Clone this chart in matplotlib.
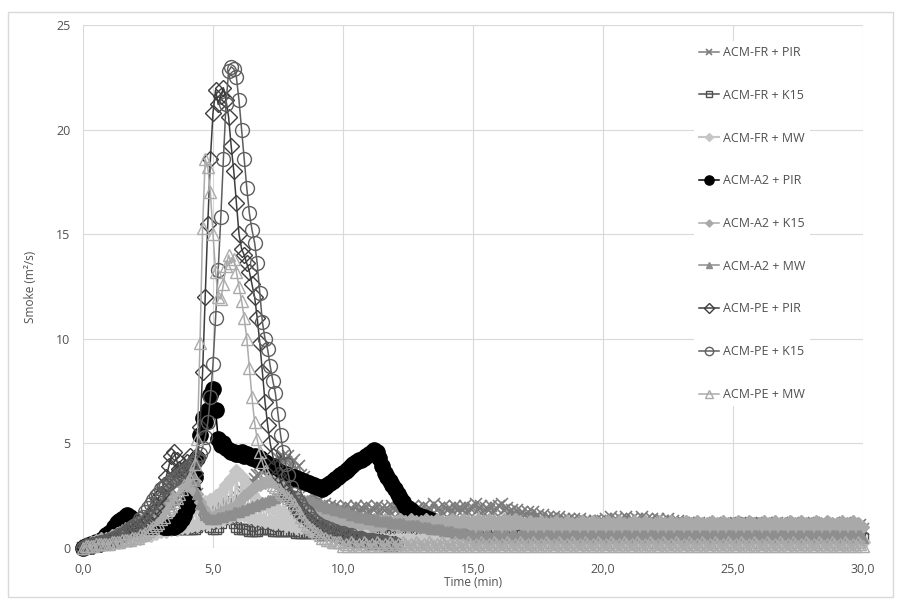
import numpy as np
import matplotlib
matplotlib.use("Agg")
import matplotlib.pyplot as plt
from matplotlib.ticker import FuncFormatter
from matplotlib.patches import Rectangle

# Sample times (min), one reading every 6 s
TIME_MIN = np.linspace(0.0, 30.0, 301)

FR_PIR = [
    0.0, 0.1, 0.1, 0.2, 0.1, 0.2, 0.3, 0.2, 0.3, 0.4,
    0.3, 0.5, 0.4, 0.6, 0.5, 0.7, 0.6, 0.8, 0.7, 0.9,
    0.8, 1.1, 0.9, 1.2, 1.1, 1.4, 1.2, 1.5, 1.4, 1.7,
    1.5, 1.9, 1.7, 2.1, 1.9, 2.3, 2.1, 2.5, 2.3, 2.7,
    2.5, 2.9, 2.7, 3.0, 2.6, 2.2, 1.9, 1.8, 1.7, 1.8,
    1.8, 1.9, 1.9, 2.0, 2.0, 2.1, 2.1, 2.2, 2.2, 2.3,
    2.4, 2.6, 2.7, 2.9, 3.0, 3.2, 3.3, 3.5, 3.5, 3.7,
    3.7, 3.9, 3.8, 4.1, 3.9, 4.3, 4.0, 4.4, 4.1, 4.4,
    4.0, 4.2, 3.8, 3.9, 3.5, 3.4, 3.0, 2.9, 2.6, 2.5,
    2.2, 2.3, 2.0, 2.1, 1.9, 2.0, 1.8, 2.0, 1.7, 1.9,
    1.8, 2.0, 1.7, 1.9, 1.8, 2.0, 1.7, 1.9, 1.8, 2.0,
    1.7, 1.9, 1.8, 2.0, 1.7, 1.9, 1.8, 1.9, 1.7, 2.0,
    1.8, 1.9, 1.7, 2.0, 1.8, 1.9, 1.7, 2.0, 1.8, 1.9,
    1.8, 2.0, 1.7, 1.9, 1.8, 2.1, 1.8, 1.9, 1.7, 2.0,
    1.8, 1.9, 1.7, 2.0, 1.8, 1.9, 1.8, 2.0, 1.7, 1.9,
    1.9, 2.1, 1.8, 2.0, 1.7, 1.9, 1.8, 2.0, 1.7, 1.9,
    2.0, 2.1, 1.8, 1.9, 1.7, 1.8, 1.6, 1.8, 1.6, 1.7,
    1.6, 1.7, 1.5, 1.7, 1.5, 1.6, 1.4, 1.6, 1.4, 1.5,
    1.4, 1.5, 1.3, 1.5, 1.3, 1.4, 1.3, 1.4, 1.2, 1.4,
    1.3, 1.4, 1.2, 1.3, 1.2, 1.3, 1.1, 1.3, 1.2, 1.3,
    1.3, 1.4, 1.2, 1.5, 1.3, 1.4, 1.2, 1.4, 1.3, 1.5,
    1.3, 1.4, 1.2, 1.4, 1.3, 1.5, 1.2, 1.4, 1.3, 1.4,
    1.2, 1.4, 1.2, 1.3, 1.2, 1.4, 1.1, 1.3, 1.2, 1.3,
    1.1, 1.2, 1.1, 1.2, 1.0, 1.2, 1.1, 1.2, 1.0, 1.1,
    1.0, 1.1, 1.0, 1.2, 1.0, 1.1, 1.0, 1.1, 1.0, 1.2,
    1.0, 1.2, 1.0, 1.1, 1.0, 1.2, 1.1, 1.2, 1.0, 1.1,
    1.0, 1.1, 1.0, 1.2, 1.0, 1.1, 1.0, 1.2, 1.1, 1.2,
    1.0, 1.1, 1.0, 1.2, 1.1, 1.2, 1.0, 1.1, 1.0, 1.2,
    1.1, 1.2, 1.0, 1.1, 1.0, 1.2, 1.0, 1.1, 1.1, 1.2,
    1.0, 1.1, 1.0, 1.2, 1.0, 1.1, 1.0, 1.1, 1.0, 1.1,
    0.9,
]

FR_K15 = [
    0.0, 0.0, 0.1, 0.1, 0.1, 0.2, 0.2, 0.2, 0.3, 0.3,
    0.3, 0.4, 0.4, 0.5, 0.5, 0.6, 0.6, 0.7, 0.7, 0.8,
    0.8, 0.8, 0.8, 0.9, 0.9, 0.9, 0.9, 0.9, 1.0, 1.0,
    1.0, 1.0, 1.0, 0.9, 0.9, 0.9, 0.9, 0.9, 0.9, 0.9,
    0.9, 0.9, 0.9, 0.9, 1.0, 1.1, 1.3, 1.3, 1.2, 1.0,
    0.9, 0.9, 1.0, 1.2, 1.4, 1.5, 1.5, 1.4, 1.2, 1.0,
    0.9, 0.9, 0.9, 0.9, 0.8, 0.8, 0.8, 0.8, 0.9, 0.9,
    0.9, 0.9, 0.9, 0.8, 0.8, 0.8, 0.8, 0.8, 0.8, 0.8,
    0.8, 0.8, 0.7, 0.7, 0.7, 0.7, 0.7, 0.7, 0.7, 0.7,
    0.7, 0.7, 0.6, 0.7, 0.6, 0.7, 0.6, 0.7, 0.6, 0.7,
    0.6, 0.7, 0.6, 0.7, 0.6, 0.7, 0.6, 0.7, 0.6, 0.7,
    0.6, 0.7, 0.6, 0.7, 0.6, 0.7, 0.6, 0.7, 0.6, 0.7,
    0.6, 0.7, 0.6, 0.7, 0.6, 0.7, 0.6, 0.7, 0.6, 0.7,
    0.6, 0.7, 0.6, 0.7, 0.6, 0.7, 0.6, 0.7, 0.6, 0.7,
    0.6, 0.7, 0.6, 0.7, 0.6, 0.7, 0.6, 0.7, 0.6, 0.7,
    0.7, 0.7, 0.8, 0.9, 0.9, 1.0, 0.9, 0.9, 1.0, 0.9,
    0.9, 0.8, 0.7, 0.6, 0.7, 0.6, 0.7, 0.6, 0.7, 0.6,
    0.6, 0.7, 0.6, 0.7, 0.6, 0.7, 0.6, 0.7, 0.6, 0.7,
    0.6, 0.7, 0.6, 0.7, 0.6, 0.7, 0.6, 0.7, 0.6, 0.7,
    0.6, 0.7, 0.6, 0.7, 0.6, 0.7, 0.6, 0.7, 0.6, 0.7,
    0.6, 0.7, 0.6, 0.7, 0.6, 0.7, 0.6, 0.7, 0.6, 0.7,
    0.6, 0.7, 0.6, 0.7, 0.6, 0.7, 0.6, 0.7, 0.6, 0.7,
    0.6, 0.7, 0.6, 0.7, 0.6, 0.7, 0.6, 0.7, 0.6, 0.7,
    0.6, 0.7, 0.6, 0.7, 0.6, 0.7, 0.6, 0.7, 0.6, 0.7,
    0.6, 0.7, 0.6, 0.7, 0.6, 0.7, 0.6, 0.7, 0.8, 1.0,
    1.1, 1.2, 1.2, 1.1, 1.2, 1.2, 1.1, 1.2, 1.2, 1.1,
    1.2, 1.1, 0.8, 0.7, 0.6, 0.7, 0.6, 0.7, 0.6, 0.7,
    0.6, 0.7, 0.6, 0.7, 0.6, 0.7, 0.6, 0.7, 0.6, 0.7,
    0.6, 0.7, 0.6, 0.7, 0.6, 0.7, 0.6, 0.7, 0.6, 0.7,
    0.6, 0.7, 0.6, 0.7, 0.6, 0.7, 0.6, 0.7, 0.6, 0.7,
    0.5,
]

FR_MW = [
    0.1, 0.2, 0.1, 0.2, 0.2, 0.3, 0.2, 0.3, 0.2, 0.3,
    0.3, 0.4, 0.3, 0.4, 0.3, 0.5, 0.4, 0.5, 0.4, 0.6,
    0.5, 0.6, 0.5, 0.7, 0.6, 0.8, 0.6, 0.9, 0.7, 1.0,
    0.8, 1.1, 0.8, 1.2, 0.9, 1.4, 0.9, 1.5, 1.0, 1.6,
    1.0, 1.8, 1.1, 1.9, 1.1, 2.0, 1.2, 2.2, 1.2, 2.3,
    1.3, 2.5, 1.3, 2.7, 1.4, 3.0, 1.5, 3.3, 1.6, 3.7,
    1.6, 3.4, 1.6, 3.0, 1.5, 2.6, 1.4, 2.3, 1.4, 2.1,
    1.3, 2.0, 1.3, 1.9, 1.2, 1.8, 1.2, 1.7, 1.1, 1.6,
    1.1, 1.6, 1.0, 1.5, 1.0, 1.5, 1.0, 1.4, 0.9, 1.4,
    0.9, 1.3, 0.9, 1.3, 0.8, 1.2, 0.8, 1.2, 0.8, 1.1,
    0.7, 1.0, 0.7, 0.9, 0.6, 0.8, 0.6, 0.8, 0.5, 0.7,
    0.3, 0.5, 0.2, 0.4, 0.3, 0.5, 0.2, 0.4, 0.3, 0.4,
    0.3, 0.5, 0.2, 0.4, 0.3, 0.5, 0.2, 0.4, 0.3, 0.4,
    0.3, 0.5, 0.2, 0.4, 0.3, 0.5, 0.2, 0.4, 0.3, 0.4,
    0.3, 0.5, 0.2, 0.4, 0.3, 0.5, 0.2, 0.4, 0.3, 0.4,
    0.3, 0.5, 0.2, 0.4, 0.3, 0.5, 0.2, 0.4, 0.3, 0.4,
    0.3, 0.5, 0.2, 0.4, 0.3, 0.5, 0.2, 0.4, 0.3, 0.4,
    0.3, 0.5, 0.2, 0.4, 0.3, 0.5, 0.2, 0.4, 0.3, 0.4,
    0.3, 0.5, 0.2, 0.4, 0.3, 0.5, 0.2, 0.4, 0.3, 0.4,
    0.3, 0.5, 0.2, 0.4, 0.3, 0.5, 0.2, 0.4, 0.3, 0.4,
    0.3, 0.5, 0.2, 0.4, 0.3, 0.5, 0.2, 0.4, 0.3, 0.4,
    0.3, 0.5, 0.2, 0.4, 0.3, 0.5, 0.2, 0.4, 0.3, 0.4,
    0.3, 0.5, 0.2, 0.4, 0.3, 0.5, 0.2, 0.4, 0.3, 0.4,
    0.3, 0.5, 0.2, 0.4, 0.3, 0.5, 0.2, 0.4, 0.3, 0.4,
    0.3, 0.5, 0.2, 0.4, 0.3, 0.5, 0.2, 0.4, 0.3, 0.4,
    0.3, 0.5, 0.2, 0.4, 0.3, 0.5, 0.2, 0.4, 0.3, 0.4,
    0.3, 0.5, 0.2, 0.4, 0.3, 0.5, 0.2, 0.4, 0.3, 0.4,
    0.3, 0.5, 0.2, 0.4, 0.3, 0.5, 0.2, 0.4, 0.3, 0.4,
    0.3, 0.5, 0.2, 0.4, 0.3, 0.5, 0.2, 0.4, 0.3, 0.4,
    0.3, 0.5, 0.2, 0.4, 0.3, 0.5, 0.2, 0.4, 0.3, 0.4,
    0.3,
]

# This run stops at 13.6 min
A2_PIR = [
    0.0, 0.1, 0.1, 0.2, 0.2, 0.3, 0.3, 0.4, 0.5, 0.6,
    0.7, 0.8, 1.0, 1.2, 1.3, 1.4, 1.5, 1.6, 1.5, 1.4,
    1.3, 1.2, 1.2, 1.1, 1.1, 1.0, 1.0, 1.0, 1.1, 1.1,
    1.1, 1.0, 1.0, 1.0, 1.1, 1.0, 1.1, 1.2, 1.4, 1.6,
    1.9, 2.3, 2.8, 3.4, 4.3, 5.4, 6.2, 6.0, 6.6, 7.3,
    7.6, 6.6, 5.2, 4.9, 5.0, 4.8, 4.7, 4.6, 4.6, 4.5,
    4.5, 4.6, 4.4, 4.5, 4.4, 4.3, 4.4, 4.2, 4.3, 4.1,
    4.1, 4.0, 3.9, 3.9, 3.8, 3.7, 3.6, 3.6, 3.5, 3.5,
    3.4, 3.4, 3.3, 3.3, 3.2, 3.2, 3.1, 3.1, 3.0, 3.0,
    2.9, 2.9, 2.8, 2.9, 3.0, 3.1, 3.2, 3.3, 3.4, 3.5,
    3.6, 3.7, 3.8, 3.9, 4.0, 4.1, 4.2, 4.2, 4.3, 4.4,
    4.5, 4.6, 4.7, 4.6, 4.3, 3.9, 3.6, 3.4, 3.2, 3.0,
    2.8, 2.6, 2.4, 2.2, 2.0, 1.9, 1.8, 1.7, 1.6, 1.6,
    1.5, 1.5, 1.4, 1.4, 1.3, 1.3, 1.2,
]

A2_K15 = [
    0.1, 0.2, 0.2, 0.3, 0.3, 0.4, 0.4, 0.5, 0.4, 0.5,
    0.5, 0.6, 0.6, 0.7, 0.7, 0.8, 0.8, 0.9, 0.9, 1.0,
    1.0, 1.1, 1.1, 1.2, 1.2, 1.3, 1.3, 1.4, 1.4, 1.5,
    1.5, 1.8, 2.2, 2.6, 3.0, 3.4, 3.2, 3.6, 3.0, 3.4,
    3.0, 3.5, 2.8, 3.2, 2.6, 2.2, 1.9, 1.7, 1.6, 1.5,
    1.5, 1.6, 1.6, 1.7, 1.7, 1.8, 1.8, 1.9, 1.9, 2.0,
    2.2, 2.4, 2.5, 2.6, 2.7, 2.8, 2.9, 3.0, 3.0, 3.1,
    3.1, 3.2, 3.2, 3.2, 3.1, 3.1, 3.0, 2.9, 2.8, 2.7,
    2.6, 2.5, 2.4, 2.3, 2.2, 2.1, 2.0, 1.9, 1.8, 1.8,
    1.8, 1.7, 1.7, 1.6, 1.6, 1.5, 1.5, 1.4, 1.4, 1.4,
    1.3, 1.2, 1.4, 1.1, 1.3, 1.2, 1.4, 1.1, 1.3, 1.2,
    1.3, 1.0, 1.4, 1.1, 1.3, 1.0, 1.4, 1.2, 1.3, 1.1,
    1.3, 1.0, 1.4, 1.1, 1.3, 1.0, 1.4, 1.2, 1.3, 1.1,
    1.3, 1.0, 1.4, 1.1, 1.3, 1.0, 1.4, 1.2, 1.3, 1.1,
    1.3, 1.0, 1.4, 1.1, 1.3, 1.0, 1.4, 1.2, 1.3, 1.1,
    1.3, 1.0, 1.4, 1.1, 1.3, 1.0, 1.4, 1.2, 1.3, 1.1,
    1.3, 1.0, 1.4, 1.1, 1.3, 1.0, 1.4, 1.2, 1.3, 1.1,
    1.2, 0.9, 1.3, 1.0, 1.2, 0.9, 1.3, 1.0, 1.2, 1.0,
    1.2, 0.9, 1.3, 1.0, 1.2, 0.9, 1.3, 1.0, 1.2, 1.0,
    1.2, 0.9, 1.3, 1.0, 1.2, 0.9, 1.3, 1.0, 1.2, 1.0,
    1.2, 0.9, 1.3, 1.0, 1.2, 0.9, 1.3, 1.0, 1.2, 1.0,
    1.2, 0.9, 1.3, 1.0, 1.2, 0.9, 1.3, 1.0, 1.2, 1.0,
    1.2, 0.9, 1.3, 1.0, 1.2, 0.9, 1.3, 1.0, 1.2, 1.0,
    1.2, 0.9, 1.3, 1.0, 1.2, 0.9, 1.3, 1.0, 1.2, 1.0,
    1.2, 0.9, 1.3, 1.0, 1.2, 0.9, 1.3, 1.0, 1.2, 1.0,
    1.2, 0.9, 1.3, 1.0, 1.2, 0.9, 1.3, 1.0, 1.2, 1.0,
    1.2, 0.9, 1.3, 1.0, 1.2, 0.9, 1.3, 1.0, 1.2, 1.0,
    1.2, 0.9, 1.3, 1.0, 1.2, 0.9, 1.3, 1.0, 1.2, 1.0,
    1.2, 0.9, 1.3, 1.0, 1.2, 0.9, 1.3, 1.0, 1.2, 1.0,
    1.2, 0.9, 1.3, 1.0, 1.2, 0.9, 1.3, 1.0, 1.2, 1.0,
    1.0,
]

A2_MW = [
    0.0, 0.1, 0.1, 0.1, 0.2, 0.2, 0.2, 0.3, 0.3, 0.3,
    0.4, 0.5, 0.6, 0.7, 0.8, 0.9, 1.0, 1.0, 1.1, 1.1,
    1.2, 1.3, 1.4, 1.5, 1.6, 1.7, 1.8, 1.9, 2.0, 2.1,
    2.2, 2.5, 2.8, 3.1, 3.4, 3.7, 3.5, 3.9, 3.6, 4.0,
    3.7, 4.1, 3.6, 3.2, 2.6, 2.1, 1.8, 1.6, 1.5, 1.4,
    1.4, 1.4, 1.5, 1.5, 1.5, 1.6, 1.6, 1.6, 1.7, 1.7,
    1.7, 1.8, 1.8, 1.9, 1.9, 2.0, 2.0, 2.1, 2.1, 2.2,
    2.2, 2.3, 2.3, 2.4, 2.4, 2.5, 2.5, 2.5, 2.5, 2.5,
    2.5, 2.5, 2.4, 2.4, 2.4, 2.3, 2.3, 2.3, 2.2, 2.2,
    2.1, 2.1, 2.0, 2.0, 1.9, 1.9, 1.9, 1.8, 1.8, 1.8,
    1.7, 1.7, 1.7, 1.6, 1.6, 1.6, 1.5, 1.5, 1.5, 1.5,
    1.4, 1.4, 1.4, 1.4, 1.3, 1.3, 1.3, 1.3, 1.3, 1.2,
    1.2, 1.2, 1.2, 1.2, 1.1, 1.1, 1.1, 1.1, 1.1, 1.1,
    1.0, 1.0, 1.0, 1.0, 0.9, 0.9, 0.9, 0.9, 0.9, 0.8,
    0.8, 0.8, 0.8, 0.7, 0.7, 0.7, 0.7, 0.7, 0.6, 0.6,
    0.6, 0.5, 0.6, 0.6, 0.5, 0.6, 0.6, 0.5, 0.6, 0.6,
    0.6, 0.5, 0.6, 0.6, 0.5, 0.6, 0.6, 0.5, 0.6, 0.6,
    0.6, 0.5, 0.6, 0.6, 0.5, 0.6, 0.6, 0.5, 0.6, 0.6,
    0.6, 0.5, 0.6, 0.6, 0.5, 0.6, 0.6, 0.5, 0.6, 0.6,
    0.6, 0.5, 0.6, 0.6, 0.5, 0.6, 0.6, 0.5, 0.6, 0.6,
    0.6, 0.5, 0.6, 0.6, 0.5, 0.6, 0.6, 0.5, 0.6, 0.6,
    0.6, 0.5, 0.6, 0.6, 0.5, 0.6, 0.6, 0.5, 0.6, 0.6,
    0.6, 0.5, 0.6, 0.6, 0.5, 0.6, 0.6, 0.5, 0.6, 0.6,
    0.6, 0.5, 0.6, 0.6, 0.5, 0.6, 0.6, 0.5, 0.6, 0.6,
    0.6, 0.5, 0.6, 0.6, 0.5, 0.6, 0.6, 0.5, 0.6, 0.6,
    0.6, 0.5, 0.6, 0.6, 0.5, 0.6, 0.6, 0.5, 0.6, 0.6,
    0.6, 0.5, 0.6, 0.6, 0.5, 0.6, 0.6, 0.5, 0.6, 0.6,
    0.6, 0.5, 0.6, 0.6, 0.5, 0.6, 0.6, 0.5, 0.6, 0.6,
    0.6, 0.5, 0.6, 0.6, 0.5, 0.6, 0.6, 0.5, 0.6, 0.6,
    0.6, 0.5, 0.6, 0.6, 0.5, 0.6, 0.6, 0.5, 0.6, 0.6,
    0.5,
]

# These two runs stop at 12.0 min
PE_PIR = [
    0.0, 0.1, 0.1, 0.1, 0.1, 0.2, 0.2, 0.2, 0.3, 0.3,
    0.3, 0.4, 0.4, 0.5, 0.5, 0.6, 0.7, 0.8, 0.9, 1.0,
    0.9, 1.0, 1.0, 1.1, 1.2, 1.3, 1.5, 1.7, 2.0, 2.4,
    2.6, 3.0, 3.4, 3.9, 4.4, 4.6, 4.2, 3.8, 3.5, 3.8,
    4.1, 4.4, 4.0, 3.6, 4.3, 5.8, 8.4, 12.0, 15.5, 18.6,
    20.8, 21.9, 21.2, 21.6, 22.0, 21.4, 20.6, 19.2, 18.0, 16.5,
    15.0, 14.3, 14.0, 13.6, 13.2, 12.6, 12.0, 11.0, 9.8, 8.4,
    7.0, 5.9, 5.0, 4.4, 3.9, 3.5, 3.2, 2.9, 2.7, 2.5,
    2.3, 2.1, 1.9, 1.7, 1.6, 1.5, 1.4, 1.3, 1.2, 1.1,
    1.0, 0.9, 0.9, 0.8, 0.8, 0.7, 0.7, 0.6, 0.6, 0.6,
    0.5, 0.5, 0.5, 0.5, 0.4, 0.4, 0.4, 0.4, 0.4, 0.3,
    0.3, 0.3, 0.3, 0.3, 0.3, 0.3, 0.2, 0.2, 0.2, 0.2,
    0.2,
]

PE_K15 = [
    0.0, 0.1, 0.1, 0.1, 0.2, 0.2, 0.2, 0.3, 0.3, 0.3,
    0.4, 0.4, 0.5, 0.5, 0.6, 0.6, 0.7, 0.8, 0.9, 1.0,
    1.1, 1.2, 1.4, 1.5, 1.7, 1.9, 2.1, 2.3, 2.5, 2.6,
    2.8, 2.9, 3.0, 3.1, 3.2, 3.3, 3.4, 3.5, 3.6, 3.7,
    3.8, 3.9, 4.0, 4.1, 4.3, 4.5, 4.8, 5.3, 6.0, 7.2,
    8.8, 11.0, 13.3, 15.8, 18.6, 21.2, 22.8, 23.0, 22.9, 22.5,
    21.4, 20.0, 18.6, 17.2, 16.0, 15.2, 14.6, 13.6, 12.2, 10.8,
    10.0, 9.5, 8.7, 8.0, 7.4, 6.4, 5.4, 4.6, 4.0, 3.5,
    2.9, 2.6, 2.4, 2.2, 2.0, 1.8, 1.7, 1.6, 1.4, 1.3,
    1.2, 1.1, 1.0, 1.0, 0.9, 0.9, 0.8, 0.8, 0.7, 0.7,
    0.7, 0.6, 0.6, 0.6, 0.5, 0.5, 0.5, 0.5, 0.4, 0.4,
    0.4, 0.4, 0.3, 0.3, 0.3, 0.3, 0.3, 0.2, 0.2, 0.2,
    0.2,
]

PE_MW = [
    0.0, 0.1, 0.1, 0.1, 0.1, 0.2, 0.2, 0.2, 0.2, 0.2,
    0.2, 0.3, 0.3, 0.3, 0.3, 0.4, 0.4, 0.4, 0.4, 0.5,
    0.5, 0.5, 0.6, 0.6, 0.7, 0.8, 0.9, 1.0, 1.1, 1.2,
    1.4, 1.5, 1.7, 1.9, 2.0, 2.2, 2.4, 2.6, 2.8, 3.0,
    3.1, 3.3, 3.6, 4.0, 5.2, 9.8, 15.3, 18.6, 18.2, 17.0,
    15.0, 13.2, 12.0, 11.9, 12.6, 13.5, 14.0, 13.6, 13.8, 13.2,
    12.5, 11.8, 11.0, 10.0, 8.6, 7.2, 6.0, 5.2, 4.6, 4.1,
    3.7, 3.4, 3.2, 3.0, 2.9, 2.8, 2.7, 2.6, 2.5, 2.4,
    2.3, 2.1, 1.9, 1.7, 1.5, 1.3, 1.1, 1.0, 0.9, 0.8,
    0.7, 0.6, 0.5, 0.5, 0.4, 0.4, 0.3, 0.3, 0.3, 0.3,
    0.1, 0.2, 0.1, 0.3, 0.2, 0.1, 0.2, 0.1, 0.3, 0.2,
    0.1, 0.2, 0.1, 0.3, 0.2, 0.1, 0.2, 0.1, 0.3, 0.2,
    0.1, 0.2, 0.1, 0.3, 0.2, 0.1, 0.2, 0.1, 0.3, 0.2,
    0.1, 0.2, 0.1, 0.3, 0.2, 0.1, 0.2, 0.1, 0.3, 0.2,
    0.1, 0.2, 0.1, 0.3, 0.2, 0.1, 0.2, 0.1, 0.3, 0.2,
    0.1, 0.2, 0.1, 0.3, 0.2, 0.1, 0.2, 0.1, 0.3, 0.2,
    0.1, 0.2, 0.1, 0.3, 0.2, 0.1, 0.2, 0.1, 0.3, 0.2,
    0.1, 0.2, 0.1, 0.3, 0.2, 0.1, 0.2, 0.1, 0.3, 0.2,
    0.1, 0.2, 0.1, 0.3, 0.2, 0.1, 0.2, 0.1, 0.3, 0.2,
    0.1, 0.2, 0.1, 0.3, 0.2, 0.1, 0.2, 0.1, 0.3, 0.2,
    0.1, 0.2, 0.1, 0.3, 0.2, 0.1, 0.2, 0.1, 0.3, 0.2,
    0.1, 0.2, 0.1, 0.3, 0.2, 0.1, 0.2, 0.1, 0.3, 0.2,
    0.1, 0.2, 0.1, 0.3, 0.2, 0.1, 0.2, 0.1, 0.3, 0.2,
    0.1, 0.2, 0.1, 0.3, 0.2, 0.1, 0.2, 0.1, 0.3, 0.2,
    0.1, 0.2, 0.1, 0.3, 0.2, 0.1, 0.2, 0.1, 0.3, 0.2,
    0.1, 0.2, 0.1, 0.3, 0.2, 0.1, 0.2, 0.1, 0.3, 0.2,
    0.1, 0.2, 0.1, 0.3, 0.2, 0.1, 0.2, 0.1, 0.3, 0.2,
    0.1, 0.2, 0.1, 0.3, 0.2, 0.1, 0.2, 0.1, 0.3, 0.2,
    0.1, 0.2, 0.1, 0.3, 0.2, 0.1, 0.2, 0.1, 0.3, 0.2,
    0.1, 0.2, 0.1, 0.3, 0.2, 0.1, 0.2, 0.1, 0.3, 0.2,
    0.1,
]

SERIES_LABELS = [
    "ACM-FR + PIR", "ACM-FR + K15", "ACM-FR + MW",
    "ACM-A2 + PIR", "ACM-A2 + K15", "ACM-A2 + MW",
    "ACM-PE + PIR", "ACM-PE + K15", "ACM-PE + MW",
]
SERIES_VALUES = [FR_PIR, FR_K15, FR_MW, A2_PIR, A2_K15, A2_MW, PE_PIR, PE_K15, PE_MW]

# colour, marker, marker size (pt), filled marker?, line width
STYLES = [
    ("#7c7c7c", "x", 8.0, True, 1.1),
    ("#4f4f4f", "s", 7.0, False, 1.1),
    ("#c6c6c6", "D", 7.0, True, 1.5),
    ("#000000", "o", 11.0, True, 1.1),
    ("#a9a9a9", "D", 6.0, True, 1.1),
    ("#8e8e8e", "^", 7.0, True, 1.1),
    ("#3d3d3d", "D", 8.5, False, 1.1),
    ("#5e5e5e", "o", 10.0, False, 1.1),
    ("#ababab", "^", 9.0, False, 1.1),
]

X_TICKS = [0, 5, 10, 15, 20, 25, 30]
Y_TICKS = [0, 5, 10, 15, 20, 25]

plt.rcParams["font.family"] = ["Open Sans", "DejaVu Sans"]
TEXT = "#505050"

fig = plt.figure(figsize=(9.01, 6.01), dpi=100)
fig.patch.set_facecolor("white")
W, H = 901, 601
ax = fig.add_axes([83 / W, 1 - 548 / H, 780 / W, 523 / H])

for label, vals, (col, mk, ms, filled, lw) in zip(SERIES_LABELS, SERIES_VALUES, STYLES):
    t = TIME_MIN[: len(vals)]
    ax.plot(t, vals, color=col, lw=lw, marker=mk, ms=ms,
            mfc=col if filled else "none", mec=col,
            mew=1.2 if mk == "x" else 1.0,
            label=label, clip_on=False)

ax.set_xlim(0, 30)
ax.set_ylim(0, 25)
ax.set_xticks(X_TICKS)
ax.set_yticks(Y_TICKS)
ax.xaxis.set_major_formatter(FuncFormatter(lambda v, p: f"{v:.1f}".replace(".", ",")))
ax.yaxis.set_major_formatter(FuncFormatter(lambda v, p: f"{v:.0f}"))
ax.grid(True, color="#d9d9d9", lw=0.8)
ax.set_axisbelow(True)
for s in ax.spines.values():
    s.set_visible(False)
ax.tick_params(length=0, labelsize=9, labelcolor=TEXT)
ax.tick_params(axis="x", pad=11)
ax.tick_params(axis="y", pad=9)

ax.set_ylabel("Smoke (m²/s)", fontsize=8.5, color=TEXT, labelpad=14)
ax.set_xlabel("Time (min)", fontsize=8.5, color=TEXT, labelpad=0)

leg = ax.legend(loc="upper left", bbox_to_anchor=(694 / W, 1 - 41 / H),
                bbox_transform=fig.transFigure, frameon=True, fontsize=9,
                markerscale=0.6, handlelength=1.6, handletextpad=0.3,
                labelspacing=2.38, borderpad=0.4, borderaxespad=0)
leg.get_frame().set_facecolor("white")
leg.get_frame().set_edgecolor("none")
leg.get_frame().set_alpha(1.0)
for txt in leg.get_texts():
    txt.set_color(TEXT)

fig.patches.append(Rectangle((8 / W, 1 - 597 / H), 885 / W, 585 / H,
                             transform=fig.transFigure, fill=False,
                             edgecolor="#d9d9d9", lw=1.0))

fig.savefig("out.png", dpi=100, facecolor="white")
